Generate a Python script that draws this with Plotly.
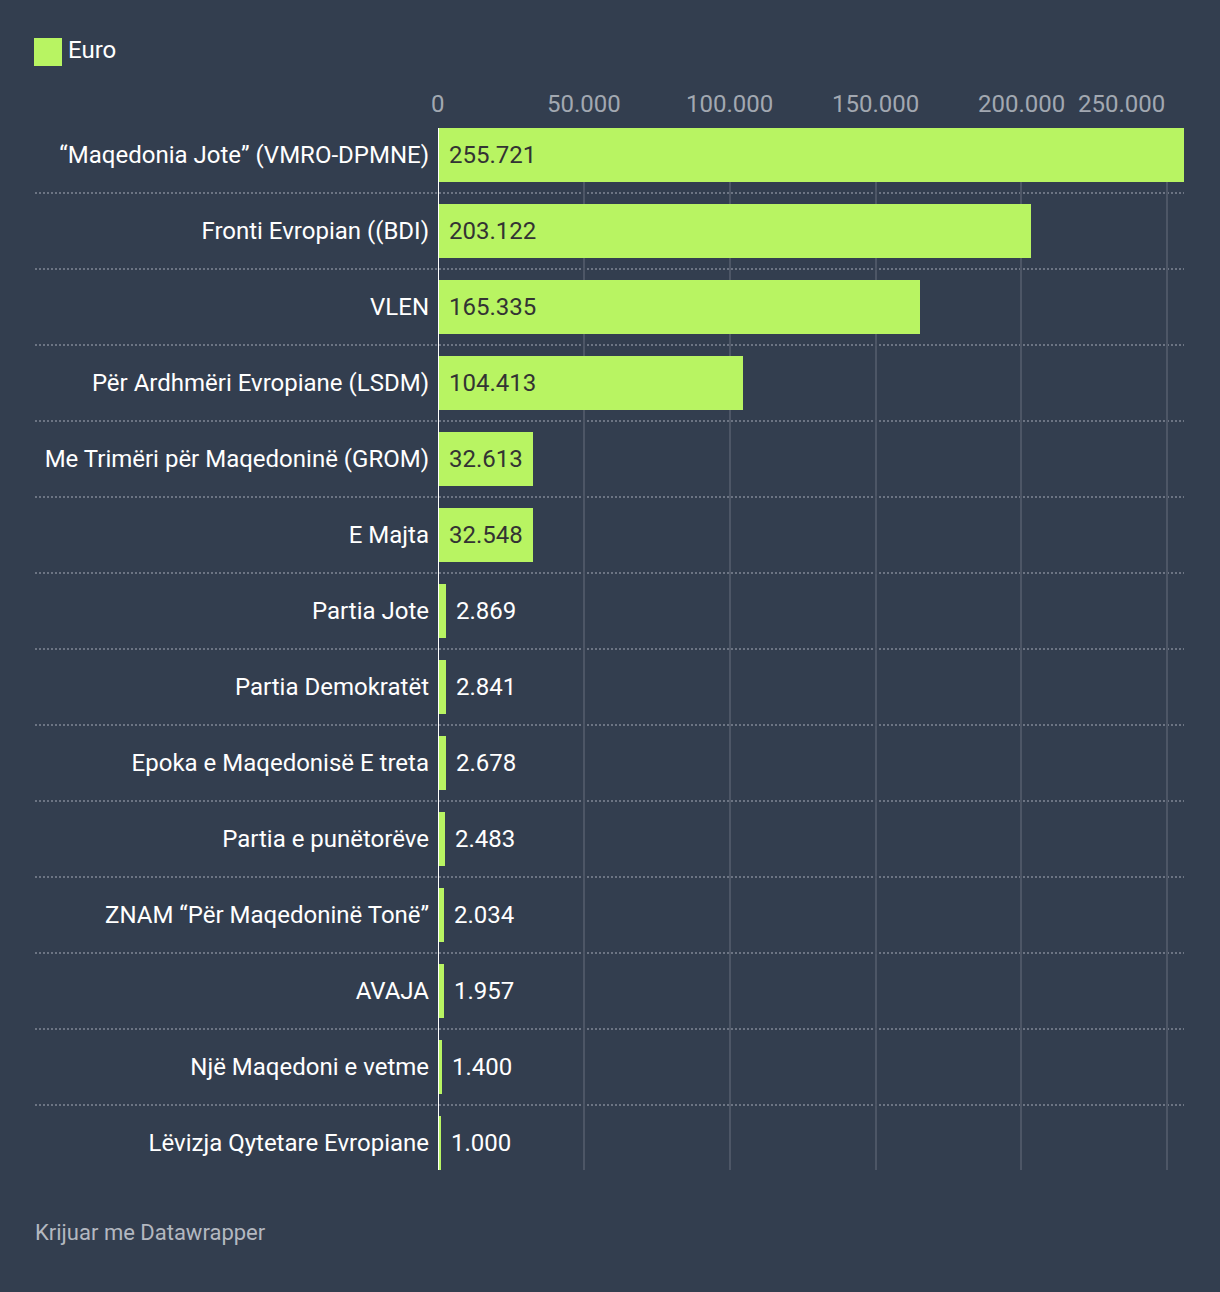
import plotly.graph_objects as go

categories = [
    "“Maqedonia Jote” (VMRO-DPMNE)",
    "Fronti Evropian ((BDI)",
    "VLEN",
    "Për Ardhmëri Evropiane (LSDM)",
    "Me Trimëri për Maqedoninë (GROM)",
    "E Majta",
    "Partia Jote",
    "Partia Demokratët",
    "Epoka e Maqedonisë E treta",
    "Partia e punëtorëve",
    "ZNAM “Për Maqedoninë Tonë”",
    "AVAJA",
    "Një Maqedoni e vetme",
    "Lëvizja Qytetare Evropiane",
]
values = [255721, 203122, 165335, 104413, 32613, 32548, 2869, 2841, 2678, 2483, 2034, 1957, 1400, 1000]
value_labels = ["255.721", "203.122", "165.335", "104.413", "32.613", "32.548", "2.869", "2.841",
                "2.678", "2.483", "2.034", "1.957", "1.400", "1.000"]
tick_vals = [0, 50000, 100000, 150000, 200000, 250000]
tick_labels = ["0", "50.000", "100.000", "150.000", "200.000", "250.000"]
series_name = "Euro"

BG = "#333e4f"
BAR = "#b8f462"
FONT = "Roboto"
FS = 24

W, H = 1220, 1292
ML, MR, MT, MB = 438, 36, 128, 122
PW = W - ML - MR
PH = H - MT - MB


def px_x(p):
    return (p - ML) / PW


def px_y(p):
    return (H - MB - p) / PH


n = len(categories)
ys = list(range(n))
half = 27 / 76

fig = go.Figure()
fig.add_trace(go.Bar(
    x=values, y=ys, orientation="h", marker=dict(color=BAR, line=dict(width=0)),
    width=2 * half, name=series_name, showlegend=False, hoverinfo="skip",
))

annotations = []
for i, (v, lab) in enumerate(zip(values, value_labels)):
    if v > 20000:
        annotations.append(dict(x=0, y=i, xref="x", yref="y", text=lab, showarrow=False,
                                xanchor="left", xshift=9, font=dict(family=FONT, size=FS, color="#333333")))
    else:
        annotations.append(dict(x=v, y=i, xref="x", yref="y", text=lab, showarrow=False,
                                xanchor="left", xshift=8, font=dict(family=FONT, size=FS, color="#ffffff")))

for j, (tv, tl) in enumerate(zip(tick_vals, tick_labels)):
    last = j == len(tick_vals) - 1
    annotations.append(dict(x=tv, y=1, xref="x", yref="paper", text=tl, showarrow=False,
                            xanchor="right" if last else "center", yanchor="middle", yshift=24,
                            font=dict(family=FONT, size=FS, color="#a2a8b1")))

# legend
annotations.append(dict(x=px_x(66), y=px_y(50), xref="paper", yref="paper", text=series_name,
                        showarrow=False, xanchor="left", yanchor="middle",
                        font=dict(family=FONT, size=FS, color="#ffffff")))
# footer
annotations.append(dict(x=px_x(33), y=px_y(1232), xref="paper", yref="paper", text="Krijuar me Datawrapper",
                        showarrow=False, xanchor="left", yanchor="middle",
                        font=dict(family=FONT, size=22, color="#b3b8c0")))

shapes = [dict(type="rect", xref="paper", yref="paper", x0=px_x(34), x1=px_x(62), y0=px_y(38), y1=px_y(66),
               fillcolor=BAR, line=dict(width=0))]
for i in range(n - 1):
    shapes.append(dict(type="line", xref="paper", yref="y", x0=px_x(35), x1=1, y0=i + 0.5, y1=i + 0.5,
                       line=dict(color="#6c7483", width=2, dash="2px,2px"), layer="below"))
# zero baseline
shapes.append(dict(type="line", xref="x", yref="paper", x0=0, x1=0, y0=0, y1=1,
                   line=dict(color="#ffffff", width=2), layer="above"))

fig.update_layout(
    width=W, height=H,
    margin=dict(l=ML, r=MR, t=MT, b=MB, pad=0),
    paper_bgcolor=BG, plot_bgcolor=BG,
    bargap=0,
    showlegend=False,
    annotations=annotations,
    shapes=shapes,
    xaxis=dict(range=[0, values[0]], tickvals=tick_vals, showticklabels=False,
               showgrid=True, gridcolor="#4d5666", gridwidth=2, zeroline=False,
               showline=False, fixedrange=True),
    yaxis=dict(range=[n - 1 + half, -half], tickvals=ys, ticktext=categories,
               showgrid=False, zeroline=False, showline=False, ticks="",
               ticklabelstandoff=8,
               tickfont=dict(family=FONT, size=FS, color="#ffffff"), fixedrange=True),
)

fig.write_html("out.html", config={"displayModeBar": False},
               post_script="document.body.style.margin='0';document.body.style.background='" + BG + "';")
